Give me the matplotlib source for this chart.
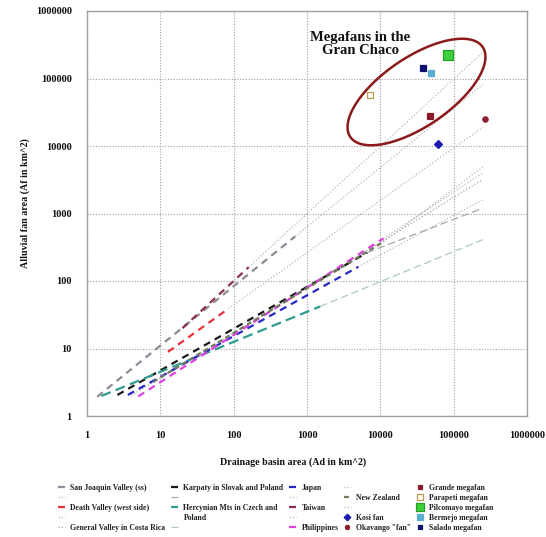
import numpy as np
import matplotlib
matplotlib.use("Agg")
import matplotlib.pyplot as plt
from matplotlib.lines import Line2D
from matplotlib.patches import Polygon
from matplotlib.ticker import FixedLocator, FixedFormatter, NullLocator

plt.rcParams['font.family'] = ['Liberation Serif', 'DejaVu Serif']
plt.rcParams['font.weight'] = 'bold'

# ---------------- data ----------------
fit_names = ["San Joaquin Valley (ss)", "Death Valley (west side)", "General Valley in Costa Rica",
             "Karpaty in Slovak and Poland", "Hercynian Mts in Czech and", "Japan", "Taiwan",
             "Philippines", "New Zealand"]
fit_x_start = [1.38, 12.7, 4.0, 2.6, 1.57, 3.6, 20.0, 5.0, 8.0]
fit_y_start = [1.93, 8.9, 2.0, 2.05, 1.98, 2.05, 20.0, 1.95, 3.2]
fit_x_end = [690, 85, 250000, 6600, 1510, 5000, 160, 11000, 11000]
fit_y_end = [458, 39, 3200, 263, 42, 162, 160, 427, 380]
ext_x_end = [250000, 250000, None, 250000, 250000, 250000, 250000, 250000, 250000]
ext_y_end = [81700, 19000, None, 1200, 410, 1600, 245000, 4000, 4900]

fan_names = ["Kosi fan", 'Okavango "fan"', "Grande megafan", "Parapeti megafan",
             "Pilcomayo megafan", "Bermejo megafan", "Salado megafan"]
fan_x = [62000, 267000, 48000, 7300, 83000, 49000, 38000]
fan_y = [10800, 25000, 27700, 57500, 225000, 120000, 144000]

tick_values = [1, 10, 100, 1000, 10000, 100000, 1000000]
tick_labels = ["1", "10", "100", "1000", "10000", "100000", "1000000"]

# ---------------- styles ----------------
fit_colors = ['#8f8a95', '#e8303a', '#a8a8a8', '#1a1a1a', '#2e9c8e', '#2828c8', '#8b3050',
              '#e040e0', '#6f7a5c']
fit_styles = [(0, (3.2, 2.4)), (0, (3.2, 2.4)), (0, (1, 1.6)), (0, (3.2, 2.4)), (0, (4.5, 2.4)),
              (0, (3.2, 2.4)), (0, (3.2, 2.4)), (0, (3.2, 2.4)), (0, (2.2, 1.6))]
fit_widths = [1.6, 1.6, 0.9, 1.6, 1.6, 1.6, 1.6, 1.6, 1.6]
ext_colors = ['#b8b8b8', '#b8b8b8', None, '#a8a8a8', '#a9c9c5', '#b8b8b8', '#b8b8b8',
              '#b8b8b8', '#b8b8b8']
ext_styles = [(0, (1, 1.6)), (0, (1, 1.6)), None, (0, (6, 3)), (0, (6, 3)), (0, (1, 1.6)),
              (0, (1, 1.6)), (0, (1, 1.6)), (0, (1, 1.6))]
fan_markers = ['D', 'o', 's', 's', 's', 's', 's']
fan_sizes = [4.2, 3.8, 4.0, 4.8, 7.0, 4.8, 4.2]
fan_face = ['#1a1ab0', '#8b2030', '#8b1a2a', 'none', '#3cd23c', '#5aaed0', '#101070']
fan_edge = ['#1a1ab0', '#8b2030', '#8b1a2a', '#b89a50', '#28a028', '#5aaed0', '#101070']

W, H = 546, 537
fig = plt.figure(figsize=(W / 100, H / 100), dpi=100)
ax_l, ax_b, ax_w, ax_h = 87, 416, 440, 405
ax = fig.add_axes([ax_l / W, 1 - ax_b / H, ax_w / W, ax_h / H])
ax.set_xscale('log')
ax.set_yscale('log')
ax.set_xlim(1, 1e6)
ax.set_ylim(1, 1e6)

for s in ax.spines.values():
    s.set_color('#a0a0a0')
    s.set_linewidth(1.0)
ax.xaxis.set_major_locator(FixedLocator(tick_values))
ax.xaxis.set_major_formatter(FixedFormatter(tick_labels))
ax.yaxis.set_major_locator(FixedLocator(tick_values))
ax.yaxis.set_major_formatter(FixedFormatter(tick_labels))
ax.xaxis.set_minor_locator(NullLocator())
ax.yaxis.set_minor_locator(NullLocator())
ax.tick_params(length=0, labelsize=7.5, pad=11, colors='#111111')
for lab in ax.get_xticklabels() + ax.get_yticklabels():
    lab.set_fontweight('bold')
ax.grid(True, color='#a0a0a0', linestyle=(0, (1, 1.5)), linewidth=0.8)
ax.set_axisbelow(True)

fit_handles = []
ext_handles = []
for i, name in enumerate(fit_names):
    h, = ax.plot([fit_x_start[i], fit_x_end[i]], [fit_y_start[i], fit_y_end[i]],
                 color=fit_colors[i], linestyle=fit_styles[i], linewidth=fit_widths[i],
                 label=name, dash_capstyle='butt', zorder=3)
    fit_handles.append(h)
    if ext_x_end[i] is not None:
        e, = ax.plot([fit_x_end[i], ext_x_end[i]], [fit_y_end[i], ext_y_end[i]],
                     color=ext_colors[i], linestyle=ext_styles[i], linewidth=0.9,
                     label=' ', zorder=2)
        ext_handles.append(e)
    else:
        ext_handles.append(None)

fan_handles = []
for i, name in enumerate(fan_names):
    h, = ax.plot([fan_x[i]], [fan_y[i]], linestyle='none', marker=fan_markers[i],
                 markersize=fan_sizes[i], markerfacecolor=fan_face[i],
                 markeredgecolor=fan_edge[i], markeredgewidth=0.9, label=name, zorder=4)
    fan_handles.append(h)

# ellipse around the Gran Chaco megafans (drawn in axes fraction units)
cx, cy = (416.5 - ax_l) / ax_w, (ax_b - 92) / ax_h
a_px, b_px, ang = 80, 34.5, np.deg2rad(34.2)
t = np.linspace(0, 2 * np.pi, 200)
dx = a_px * np.cos(t) * np.cos(ang) - b_px * np.sin(t) * np.sin(ang)
dy = a_px * np.cos(t) * np.sin(ang) + b_px * np.sin(t) * np.cos(ang)
ell = Polygon(np.column_stack([cx + dx / ax_w, cy + dy / ax_h]), closed=True, fill=False,
              edgecolor='#8b1a1a', linewidth=1.8, transform=ax.transAxes, zorder=5,
              clip_on=False)
ax.add_patch(ell)

fig.text(360 / W, 1 - 44 / H, "Megafans in the\nGran Chaco", ha='center', va='center',
         fontsize=10.5, fontweight='bold', linespacing=1.05, color='#111111')

fig.text(293 / W, 1 - 462 / H, "Drainage basin area (Ad in km^2)", ha='center', va='center',
         fontsize=7.2, fontweight='bold', color='#111111')
fig.text(25 / W, 1 - 203 / H, "Alluvial fan area (Af in km^2)", ha='center', va='center',
         rotation=90, fontsize=7.2, fontweight='bold', color='#111111')

# legend (column-major, 5 rows per column)
poland = Line2D([], [], linestyle='none', label='Poland')
order = [fit_handles[0], ext_handles[0], fit_handles[1], ext_handles[1], fit_handles[2],
         fit_handles[3], ext_handles[3], fit_handles[4], poland, ext_handles[4],
         fit_handles[5], ext_handles[5], fit_handles[6], ext_handles[6], fit_handles[7],
         ext_handles[7], fit_handles[8], ext_handles[8], fan_handles[0], fan_handles[1],
         fan_handles[2], fan_handles[3], fan_handles[4], fan_handles[5], fan_handles[6]]
leg = fig.legend(handles=order, labels=[h.get_label() for h in order], ncol=5,
                 loc='upper left', bbox_to_anchor=(58 / W, 1 - 484 / H),
                 frameon=False, fontsize=5.6, handlelength=0.9, handletextpad=0.7,
                 columnspacing=0.7, labelspacing=0.26, borderpad=0, borderaxespad=0,
                 numpoints=1, markerscale=0.8,
                 prop={'family': ['Liberation Serif'], 'weight': 'bold', 'size': 5.6})
for txt in leg.get_texts():
    txt.set_color('#222222')

fig.savefig('out.png', dpi=100)
